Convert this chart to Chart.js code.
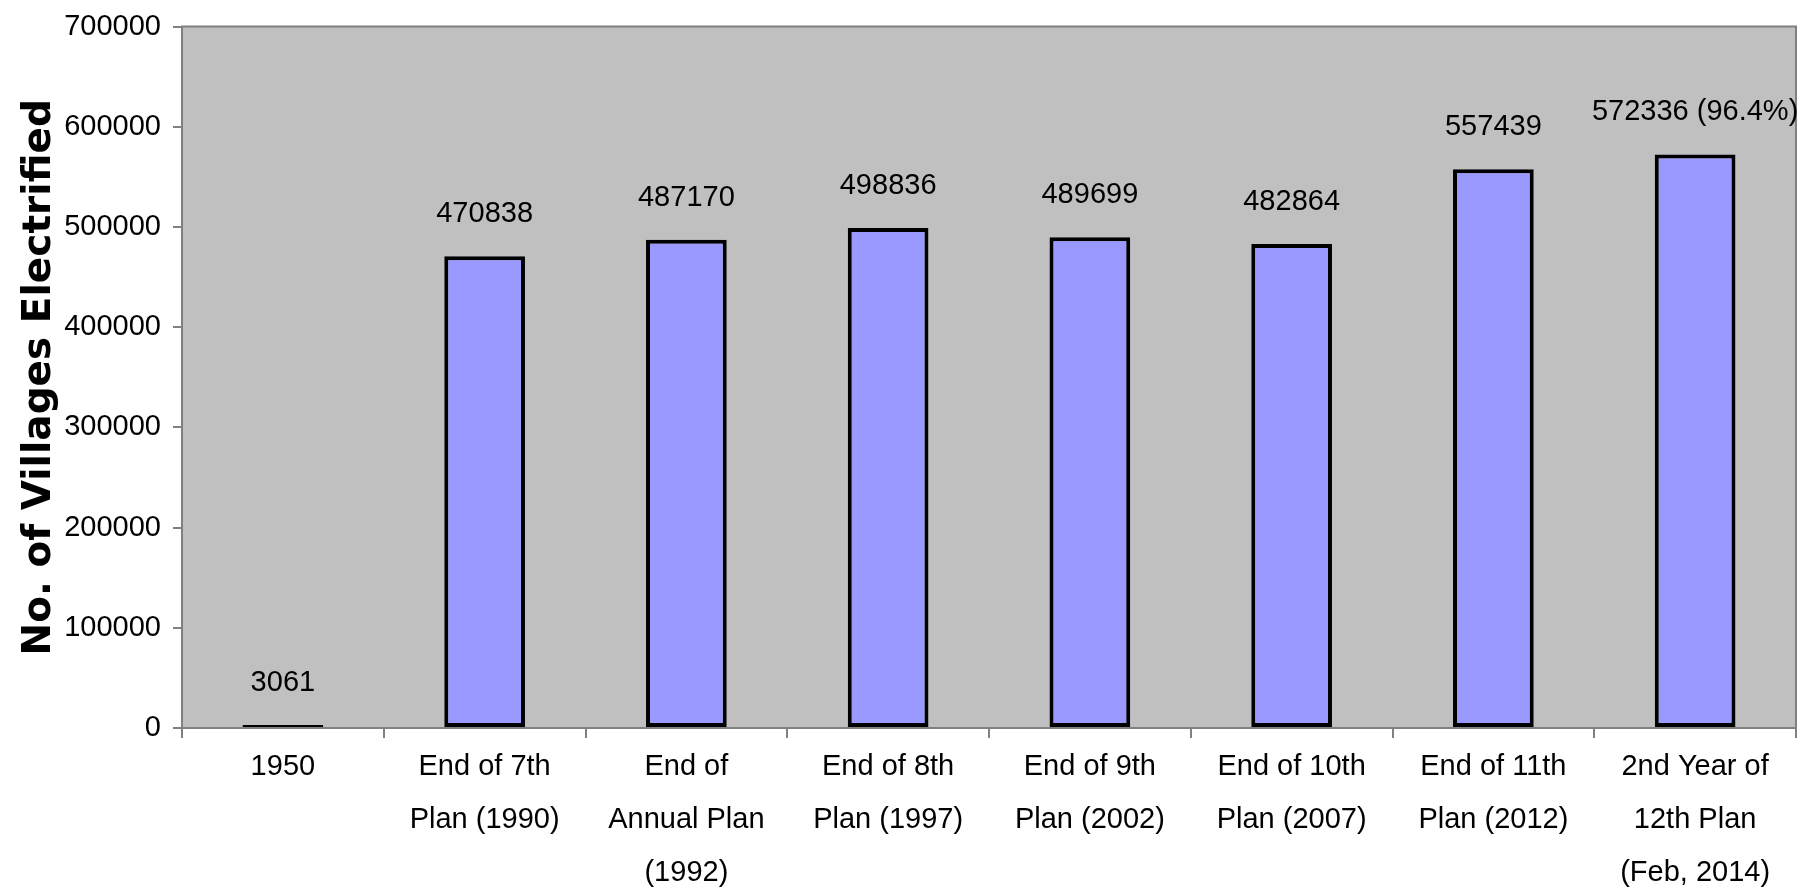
<!DOCTYPE html>
<html>
<head>
<meta charset="utf-8">
<script src="https://cdn.jsdelivr.net/npm/chart.js@4/dist/chart.umd.min.js"></script>
<style>
  html, body { margin: 0; padding: 0; background: #fff; }
  #wrap { width: 1805px; height: 888px; }
</style>
</head>
<body>
<div id="wrap"><canvas id="villages-chart" width="1805" height="888"></canvas></div>
<script>
var categories = [
  '1950',
  ['End of 7th', 'Plan (1990)'],
  ['End of', 'Annual Plan', '(1992)'],
  ['End of 8th', 'Plan (1997)'],
  ['End of 9th', 'Plan (2002)'],
  ['End of 10th', 'Plan (2007)'],
  ['End of 11th', 'Plan (2012)'],
  ['2nd Year of', '12th Plan', '(Feb, 2014)']
];
var villages = [3061, 470838, 487170, 498836, 489699, 482864, 557439, 572336];
var valueLabels = ['3061', '470838', '487170', '498836', '489699', '482864', '557439', '572336 (96.4%)'];
var yTicks = [0, 100000, 200000, 300000, 400000, 500000, 600000, 700000];

var FONT = '"Liberation Sans", Arial, sans-serif';

// grey plot background with a frame
var plotBackground = {
  id: 'plotBackground',
  beforeDraw: function(chart) {
    var a = chart.chartArea, ctx = chart.ctx;
    ctx.save();
    ctx.fillStyle = '#c0c0c0';
    ctx.fillRect(a.left, a.top, a.right - a.left, a.bottom - a.top);
    ctx.strokeStyle = '#808080';
    ctx.lineWidth = 2;
    ctx.beginPath();
    ctx.moveTo(a.left, a.bottom);
    ctx.lineTo(a.left, a.top);
    ctx.lineTo(a.right, a.top);
    ctx.lineTo(a.right, a.bottom);
    ctx.stroke();
    ctx.restore();
  }
};

// numbers above each bar
var barLabels = {
  id: 'barLabels',
  afterDatasetsDraw: function(chart) {
    var ctx = chart.ctx;
    var meta = chart.getDatasetMeta(0);
    ctx.save();
    ctx.font = '29px ' + FONT;
    ctx.fillStyle = '#000';
    ctx.textAlign = 'center';
    ctx.textBaseline = 'middle';
    meta.data.forEach(function(bar, i) {
      ctx.fillText(valueLabels[i], bar.x, bar.y - 42);
    });
    ctx.restore();
  }
};

var ctx = document.getElementById('villages-chart').getContext('2d');
var chart = new Chart(ctx, {
  type: 'bar',
  data: {
    labels: categories,
    datasets: [{
      label: 'No. of Villages Electrified',
      data: villages,
      backgroundColor: '#9999ff',
      borderColor: '#000000',
      borderWidth: 4,
      borderSkipped: false,
      categoryPercentage: 1.0,
      barPercentage: 0.4
    }]
  },
  options: {
    responsive: false,
    animation: false,
    layout: { padding: { top: 21, right: 9, left: 0, bottom: 0 } },
    plugins: {
      legend: { display: false },
      tooltip: { enabled: false }
    },
    scales: {
      x: {
        offset: true,
        grid: {
          offset: true,
          drawOnChartArea: false,
          tickLength: 10,
          color: '#808080',
          lineWidth: 2
        },
        border: { color: '#808080', width: 2 },
        ticks: {
          maxRotation: 0,
          autoSkip: false,
          color: '#000',
          padding: 3,
          font: { family: FONT, size: 29, lineHeight: 1.82 }
        },
        afterFit: function(scale) { scale.height = 160; }
      },
      y: {
        min: 0,
        max: 700000,
        afterBuildTicks: function(scale) {
          scale.ticks = yTicks.map(function(v) { return { value: v }; });
        },
        grid: {
          drawOnChartArea: false,
          tickLength: 9,
          color: '#808080',
          lineWidth: 2
        },
        border: { color: '#808080', width: 2 },
        ticks: {
          color: '#000',
          padding: 12,
          font: { family: FONT, size: 29, lineHeight: 1.0 },
          callback: function(v) { return String(v); }
        },
        title: {
          display: true,
          text: 'No. of Villages Electrified',
          color: '#000',
          padding: { top: 16, bottom: 0 },
          font: { family: '"DejaVu Sans", sans-serif', size: 39, weight: 'bold' }
        },
        afterFit: function(scale) { scale.width = 182; }
      }
    }
  },
  plugins: [plotBackground, barLabels]
});
</script>
</body>
</html>
